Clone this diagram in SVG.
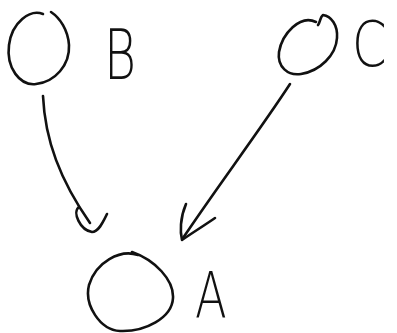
<svg xmlns="http://www.w3.org/2000/svg" width="397" height="333" viewBox="0 0 397 333">
<style>
.s{fill:none;stroke:#111;stroke-width:2.6;stroke-linecap:round;stroke-linejoin:round}
.t{font-family:"DejaVu Sans","Liberation Sans",sans-serif;font-weight:200;fill:#111}
</style>
<rect width="397" height="333" fill="#fff"/>
<g id="B">
<path class="s" d="M43,14 C30,9 12,22 9,45 C6,68 20,86 36,84 C55,82 70,65 69,45 C68,30 60,18 51,12"/>
<text class="t" x="104" y="79" font-size="70" transform="translate(104 79) scale(0.7 1) translate(-104 -79)">B</text>
</g>
<g id="C">
<path class="s" d="M316,22 C300,14 282,34 279,52 C277,67 288,76 301,74 C320,71 336,55 337,38 C338,25 331,16 323,15 C320,17 320,23 318,25"/>
<text class="t" x="352" y="66" font-size="62" transform="translate(352 66) scale(0.8 1) translate(-352 -66)">C</text>
</g>
<g id="A">
<path class="s" d="M138,255 C120,249 96,262 89,285 C84,305 100,330 120,331 C145,332 172,318 173,298 C174,280 155,260 132,252"/>
<text class="t" x="195" y="318" font-size="58" transform="translate(195 318) scale(0.8 1.1) translate(-195 -318)">A</text>
</g>
<g id="connectors">
<path class="s" d="M43,96 C45,140 60,180 90,223"/>
<path class="s" d="M79,207 C72,212 80,230 92,232 C99,232 104,220 107,214"/>
<path class="s" d="M290,84 C260,130 215,190 183,238"/>
<path class="s" d="M186,204 C180,218 180,232 182,240 C192,233 205,225 215,218"/>
</g>
</svg>
